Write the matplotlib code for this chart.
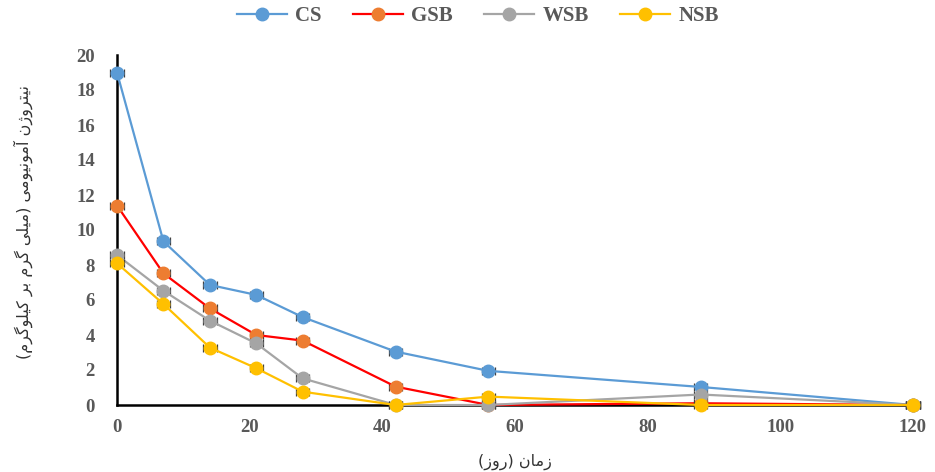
import matplotlib
matplotlib.use("Agg")
import matplotlib.pyplot as plt
from matplotlib.lines import Line2D

# ---- data ----
days = [0, 7, 14, 21, 28, 42, 56, 88, 120]
series_names = ["CS", "GSB", "WSB", "NSB"]
cs = [19.0, 9.35, 6.86, 6.29, 5.02, 3.05, 1.95, 1.03, 0.0]
gsb = [11.4, 7.52, 5.52, 4.0, 3.68, 1.05, 0.0, 0.1, 0.0]
wsb = [8.57, 6.53, 4.82, 3.52, 1.52, 0.0, 0.0, 0.6, 0.0]
nsb = [8.1, 5.77, 3.28, 2.1, 0.76, 0.0, 0.48, 0.0, 0.0]
x_ticks = [0, 20, 40, 60, 80, 100, 120]
y_ticks = [0, 2, 4, 6, 8, 10, 12, 14, 16, 18, 20]
x_label = "زمان (روز)"
y_label = "نیتروژن آمونیومی (میلی گرم بر کیلوگرم)"

# ---- simple Persian shaping for display ----
FORMS = {
    'ا': ('\uFE8D', '\uFE8E', None, None),
    'آ': ('\uFE81', '\uFE82', None, None),
    'ب': ('\uFE8F', '\uFE90', '\uFE91', '\uFE92'),
    'ت': ('\uFE95', '\uFE96', '\uFE97', '\uFE98'),
    'ر': ('\uFEAD', '\uFEAE', None, None),
    'ز': ('\uFEAF', '\uFEB0', None, None),
    'ژ': ('\uFB8A', '\uFB8B', None, None),
    'ل': ('\uFEDD', '\uFEDE', '\uFEDF', '\uFEE0'),
    'م': ('\uFEE1', '\uFEE2', '\uFEE3', '\uFEE4'),
    'ن': ('\uFEE5', '\uFEE6', '\uFEE7', '\uFEE8'),
    'و': ('\uFEED', '\uFEEE', None, None),
    'ک': ('\uFB8E', '\uFB8F', '\uFB90', '\uFB91'),
    'گ': ('\uFB92', '\uFB93', '\uFB94', '\uFB95'),
    'ی': ('\uFBFC', '\uFBFD', '\uFBFE', '\uFBFF'),
}


def dual(c):
    return c in FORMS and FORMS[c][2] is not None


def shape(text):
    out = []
    n = len(text)
    for i, c in enumerate(text):
        if c not in FORMS:
            out.append(c)
            continue
        prev = text[i - 1] if i > 0 else ''
        nxt = text[i + 1] if i < n - 1 else ''
        jp = dual(prev)
        jn = dual(c) and nxt in FORMS
        iso, fin, ini, med = FORMS[c]
        if jp and jn:
            out.append(med)
        elif jp:
            out.append(fin)
        elif jn:
            out.append(ini)
        else:
            out.append(iso)
    mirror = {'(': ')', ')': '('}
    return ''.join(mirror.get(c, c) for c in reversed(out))


# ---- plot ----
fig = plt.figure(figsize=(9.35, 4.72), dpi=100)
ax = fig.add_axes([117 / 935, 67 / 472, 796 / 935, 350 / 472])

styles = [
    (cs, "#5B9BD5", "#5B9BD5"),
    (gsb, "#FF0000", "#ED7D31"),
    (wsb, "#A5A5A5", "#A5A5A5"),
    (nsb, "#FFC000", "#FFC000"),
]
handles = []
for k, (vals, lc, mc) in enumerate(styles):
    z = 3 + k
    ax.errorbar(days, vals, xerr=1.0, fmt='none', ecolor="#404040",
                elinewidth=0.9, capsize=3, capthick=0.9, zorder=z, clip_on=False)
    ax.plot(days, vals, color=lc, lw=1.6, marker='o', markersize=9,
            markerfacecolor=mc, markeredgecolor=mc, zorder=z + 0.5, clip_on=False)
    handles.append(Line2D([], [], color=lc, lw=1.6, marker='o', markersize=9,
                          markerfacecolor=mc, markeredgecolor=mc))

ax.set_xlim(0, 120)
ax.set_ylim(0, 20)
ax.set_xticks(x_ticks)
ax.set_yticks(y_ticks)
for s in ["top", "right"]:
    ax.spines[s].set_visible(False)
for s in ["left", "bottom"]:
    ax.spines[s].set_linewidth(1.8)
    ax.spines[s].set_color("black")
ax.tick_params(axis="x", length=0, pad=10)
ax.tick_params(axis="y", length=0, pad=16)
for lab in ax.get_xticklabels() + ax.get_yticklabels():
    lab.set_fontfamily("Liberation Serif")
    lab.set_fontweight("bold")
    lab.set_fontsize(13.5)
    lab.set_color("#595959")

fig.text(515 / 935, 1 - 462 / 472, shape(x_label), family="DejaVu Sans",
         fontsize=11.5, color="#333333", ha="center", va="center")
fig.text(23 / 935, 1 - 222 / 472, shape(y_label), family="DejaVu Sans",
         fontsize=11.5, color="#333333", ha="center", va="center", rotation=90)

fig.legend(handles, series_names, loc="center", bbox_to_anchor=(478 / 935, 1 - 16 / 472),
           ncol=4, frameon=False, handlelength=2.4, columnspacing=1.5, handletextpad=0.4,
           prop={"family": "Liberation Serif", "weight": "bold", "size": 15},
           labelcolor="#595959")

fig.savefig("out.png", dpi=100)
